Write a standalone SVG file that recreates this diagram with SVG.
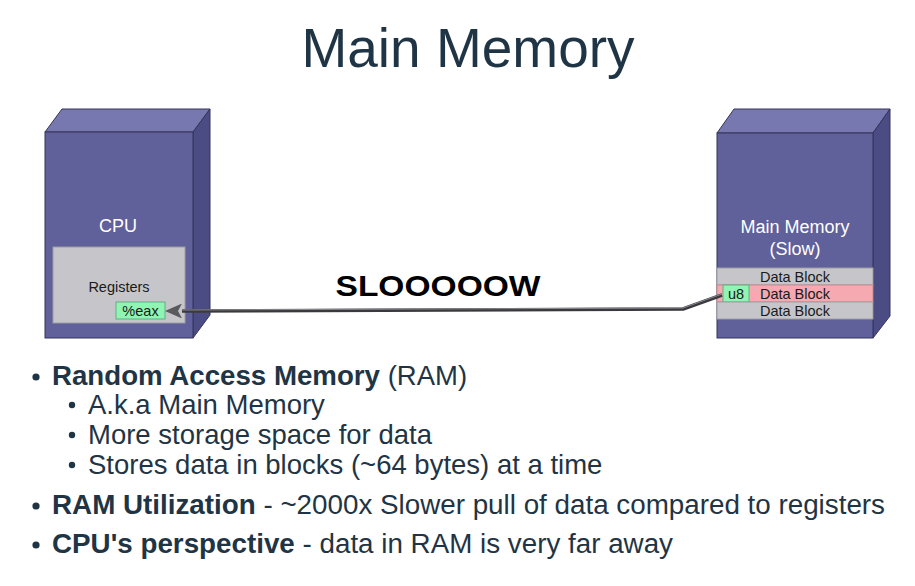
<svg xmlns="http://www.w3.org/2000/svg" width="915" height="586" viewBox="0 0 915 586">
  <defs>
    <style>
      .face-front { fill: #60609a; stroke: #34345a; stroke-width: 1; }
      .face-top { fill: #7878b0; stroke: #34345a; stroke-width: 1; }
      .face-side { fill: #4c4c84; stroke: #34345a; stroke-width: 1; }
      .box-label { font-family: "Liberation Sans", Arial, sans-serif; font-size: 18px; fill: #ffffff; text-anchor: middle; }
      .small { font-family: "Liberation Sans", Arial, sans-serif; font-size: 14.5px; fill: #1a1a1a; text-anchor: middle; }
      .reg { fill: #c6c6ca; stroke: #9c9ca2; stroke-width: 1; }
      .green { fill: #92f4b4; stroke: #5fb080; stroke-width: 1; }
      .pink { fill: #f6a9b0; stroke: #c88a90; stroke-width: 1; }
      .body { font-family: "Liberation Sans", Arial, sans-serif; fill: #1f3444; }
      .dot { fill: #1f3444; }
    </style>
    <marker id="arrowhead" viewBox="0 0 17 15" refX="0" refY="7.5" markerWidth="17" markerHeight="15" markerUnits="userSpaceOnUse" orient="auto">
      <path d="M0 0 L17 7.5 L0 15 L4 7.5 Z" fill="#5a5a5e"/>
    </marker>
  </defs>

  <rect width="915" height="586" fill="#ffffff"/>

  <!-- Title -->
  <text x="468" y="67" class="body" font-size="55" text-anchor="middle" fill="#173040">Main Memory</text>

  <!-- CPU block -->
  <g id="cpu">
    <polygon class="face-top" points="45,132 62,109 210,109 193,132"/>
    <polygon class="face-side" points="193,132 210,109 210,315 193,338"/>
    <rect class="face-front" x="45" y="132" width="148" height="206"/>
    <text x="118" y="232" class="box-label">CPU</text>
    <g id="registers">
      <rect class="reg" x="53" y="247" width="132" height="76"/>
      <text x="119" y="292" class="small">Registers</text>
      <g id="eax">
        <rect class="green" x="116" y="302" width="49" height="17"/>
        <text x="140.5" y="316" class="small">%eax</text>
      </g>
    </g>
  </g>

  <!-- Main memory block -->
  <g id="main-memory">
    <polygon class="face-top" points="717,133 734,109 890,109 873,133"/>
    <polygon class="face-side" points="873,133 890,109 890,316 873,338"/>
    <rect class="face-front" x="717" y="133" width="156" height="205"/>
    <text x="795" y="233" class="box-label">Main Memory</text>
    <text x="795" y="255" class="box-label">(Slow)</text>
    <g id="data-block-1">
      <rect class="reg" x="717" y="268" width="156" height="17"/>
      <text x="795" y="282" class="small">Data Block</text>
    </g>
    <g id="data-block-2">
      <rect class="pink" x="717" y="285" width="156" height="17"/>
      <text x="795" y="299" class="small">Data Block</text>
      <g id="u8">
        <rect class="green" x="723" y="285" width="26" height="17"/>
        <text x="736" y="299" class="small">u8</text>
      </g>
    </g>
    <g id="data-block-3">
      <rect class="reg" x="717" y="302" width="156" height="17"/>
      <text x="795" y="316" class="small">Data Block</text>
    </g>
  </g>

  <!-- Connector: u8 back to %eax -->
  <g id="connectors">
    <polyline points="722,295 683,309 182,311" fill="none" stroke="#3a3a3e" stroke-width="3.5" stroke-linejoin="round" marker-end="url(#arrowhead)"/>
    <polyline points="722,294 683,308 182,310" fill="none" stroke="#8a8a90" stroke-width="1"/>
  </g>
  <text x="438" y="296" font-family="Liberation Sans, Arial, sans-serif" font-weight="bold" font-size="30" fill="#000" text-anchor="middle" textLength="205" lengthAdjust="spacingAndGlyphs">SLOOOOOW</text>

  <!-- Bullet list -->
  <g id="bullets">
    <circle class="dot" cx="36" cy="377" r="3.6"/>
    <text x="52" y="385" class="body" font-size="27.5"><tspan font-weight="bold" textLength="328" lengthAdjust="spacingAndGlyphs">Random Access Memory</tspan> (RAM)</text>

    <circle class="dot" cx="72" cy="405" r="3.2"/>
    <text x="88" y="414" class="body" font-size="27.5">A.k.a Main Memory</text>
    <circle class="dot" cx="72" cy="435" r="3.2"/>
    <text x="88" y="444" class="body" font-size="27.5">More storage space for data</text>
    <circle class="dot" cx="72" cy="465" r="3.2"/>
    <text x="88" y="474" class="body" font-size="27.5">Stores data in blocks (~64 bytes) at a time</text>

    <circle class="dot" cx="36" cy="506" r="3.6"/>
    <text x="52" y="514" class="body" font-size="27" textLength="833" lengthAdjust="spacingAndGlyphs"><tspan font-weight="bold">RAM Utilization</tspan> - ~2000x Slower pull of data compared to registers</text>

    <circle class="dot" cx="36" cy="545" r="3.6"/>
    <text x="52" y="553" class="body" font-size="27" textLength="621" lengthAdjust="spacingAndGlyphs"><tspan font-weight="bold">CPU's perspective</tspan> - data in RAM is very far away</text>
  </g>
</svg>
